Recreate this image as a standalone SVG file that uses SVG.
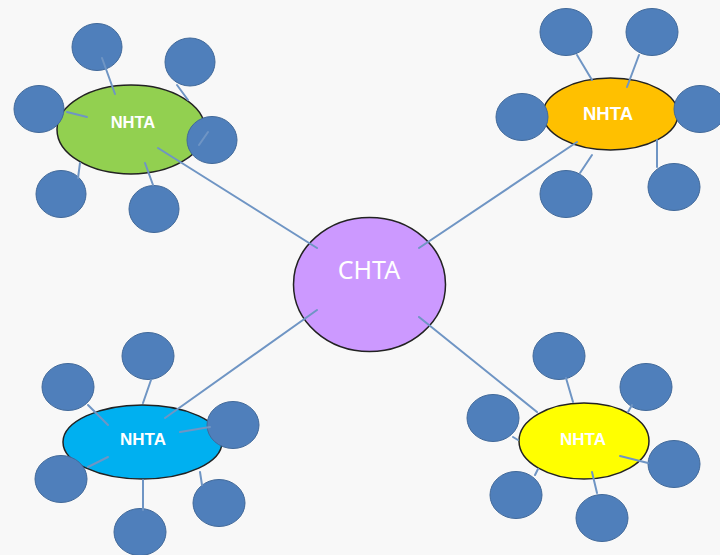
<svg xmlns="http://www.w3.org/2000/svg" width="720" height="555" viewBox="0 0 720 555">
<style>
.sat{fill:#4f7fbb;stroke:#41699a;stroke-width:1}
.hub{stroke:#222;stroke-width:1.5}
.ln{stroke:#6f95c4;stroke-width:2;fill:none;stroke-linecap:round}
.lbl{font-family:"Liberation Sans",Arial,sans-serif;font-weight:bold;fill:#fff;text-anchor:middle}
.ctr{font-family:"Noto Sans","Open Sans",sans-serif;fill:#fff;text-anchor:middle;font-size:25px}
</style>
<rect width="720" height="555" fill="#f8f8f8"/>
<g id="chta"><ellipse class="hub" cx="369.5" cy="284.5" rx="76" ry="67" fill="#cc99ff"/><text class="ctr" x="369" y="279">CHTA</text></g>
<g id="nhta-green"><ellipse class="hub" cx="131" cy="129.5" rx="74" ry="44.5" fill="#92d050"/><text class="lbl" x="133" y="128" font-size="16.5">NHTA</text></g>
<g id="nhta-orange"><ellipse class="hub" cx="610.5" cy="114" rx="67.5" ry="36" fill="#ffc000"/><text class="lbl" x="608" y="120" font-size="18.5">NHTA</text></g>
<g id="nhta-blue"><ellipse class="hub" cx="142.5" cy="442" rx="79.5" ry="37" fill="#00b0f0"/><text class="lbl" x="143" y="445" font-size="17">NHTA</text></g>
<g id="nhta-yellow"><ellipse class="hub" cx="584" cy="441" rx="65" ry="38" fill="#ffff00"/><text class="lbl" x="583" y="445" font-size="17">NHTA</text></g>
<g id="sat-green">
<ellipse class="sat" cx="97" cy="47" rx="25" ry="23.5"/>
<ellipse class="sat" cx="190" cy="62" rx="25" ry="24"/>
<ellipse class="sat" cx="39" cy="109" rx="25" ry="23.5"/>
<ellipse class="sat" cx="212" cy="140" rx="25" ry="23.5"/>
<ellipse class="sat" cx="61" cy="194" rx="25" ry="23.5"/>
<ellipse class="sat" cx="154" cy="209" rx="25" ry="23.5"/>
</g>
<g id="sat-orange">
<ellipse class="sat" cx="566" cy="32" rx="26" ry="23.5"/>
<ellipse class="sat" cx="652" cy="32" rx="26" ry="23.5"/>
<ellipse class="sat" cx="522" cy="117" rx="26" ry="23.5"/>
<ellipse class="sat" cx="700" cy="109" rx="26" ry="23.5"/>
<ellipse class="sat" cx="566" cy="194" rx="26" ry="23.5"/>
<ellipse class="sat" cx="674" cy="187" rx="26" ry="23.5"/>
</g>
<g id="sat-blue">
<ellipse class="sat" cx="148" cy="356" rx="26" ry="23.5"/>
<ellipse class="sat" cx="68" cy="387" rx="26" ry="23.5"/>
<ellipse class="sat" cx="233" cy="425" rx="26" ry="23.5"/>
<ellipse class="sat" cx="61" cy="479" rx="26" ry="23.5"/>
<ellipse class="sat" cx="140" cy="532" rx="26" ry="23.5"/>
<ellipse class="sat" cx="219" cy="503" rx="26" ry="23.5"/>
</g>
<g id="sat-yellow">
<ellipse class="sat" cx="559" cy="356" rx="26" ry="23.5"/>
<ellipse class="sat" cx="646" cy="387" rx="26" ry="23.5"/>
<ellipse class="sat" cx="493" cy="418" rx="26" ry="23.5"/>
<ellipse class="sat" cx="674" cy="464" rx="26" ry="23.5"/>
<ellipse class="sat" cx="516" cy="495" rx="26" ry="23.5"/>
<ellipse class="sat" cx="602" cy="518" rx="26" ry="23.5"/>
</g>
<g id="connectors">
<line class="ln" x1="158" y1="148" x2="317" y2="248"/>
<line class="ln" x1="577" y1="142" x2="419" y2="248"/>
<line class="ln" x1="165" y1="418" x2="317" y2="310"/>
<line class="ln" x1="537" y1="412" x2="419" y2="317"/>
<line class="ln" x1="102" y1="58" x2="115" y2="94"/>
<line class="ln" x1="177" y1="85" x2="188" y2="100"/>
<line class="ln" x1="67" y1="112" x2="87" y2="117"/>
<line class="ln" x1="208" y1="132" x2="199" y2="145"/>
<line class="ln" x1="80" y1="163" x2="78" y2="178"/>
<line class="ln" x1="145" y1="163" x2="153" y2="185"/>
<line class="ln" x1="577" y1="55" x2="592" y2="80"/>
<line class="ln" x1="639" y1="55" x2="627" y2="87"/>
<line class="ln" x1="592" y1="155" x2="580" y2="173"/>
<line class="ln" x1="657" y1="140" x2="657" y2="167"/>
<line class="ln" x1="151" y1="380" x2="143" y2="403"/>
<line class="ln" x1="88" y1="405" x2="108" y2="425"/>
<line class="ln" x1="180" y1="432" x2="210" y2="427"/>
<line class="ln" x1="88" y1="467" x2="108" y2="457"/>
<line class="ln" x1="143" y1="480" x2="143" y2="510"/>
<line class="ln" x1="200" y1="472" x2="202" y2="485"/>
<line class="ln" x1="566" y1="378" x2="573" y2="402"/>
<line class="ln" x1="628" y1="412" x2="632" y2="405"/>
<line class="ln" x1="513" y1="437" x2="518" y2="440"/>
<line class="ln" x1="620" y1="456" x2="648" y2="463"/>
<line class="ln" x1="535" y1="475" x2="538" y2="469"/>
<line class="ln" x1="592" y1="472" x2="597" y2="493"/>
</g>
</svg>
